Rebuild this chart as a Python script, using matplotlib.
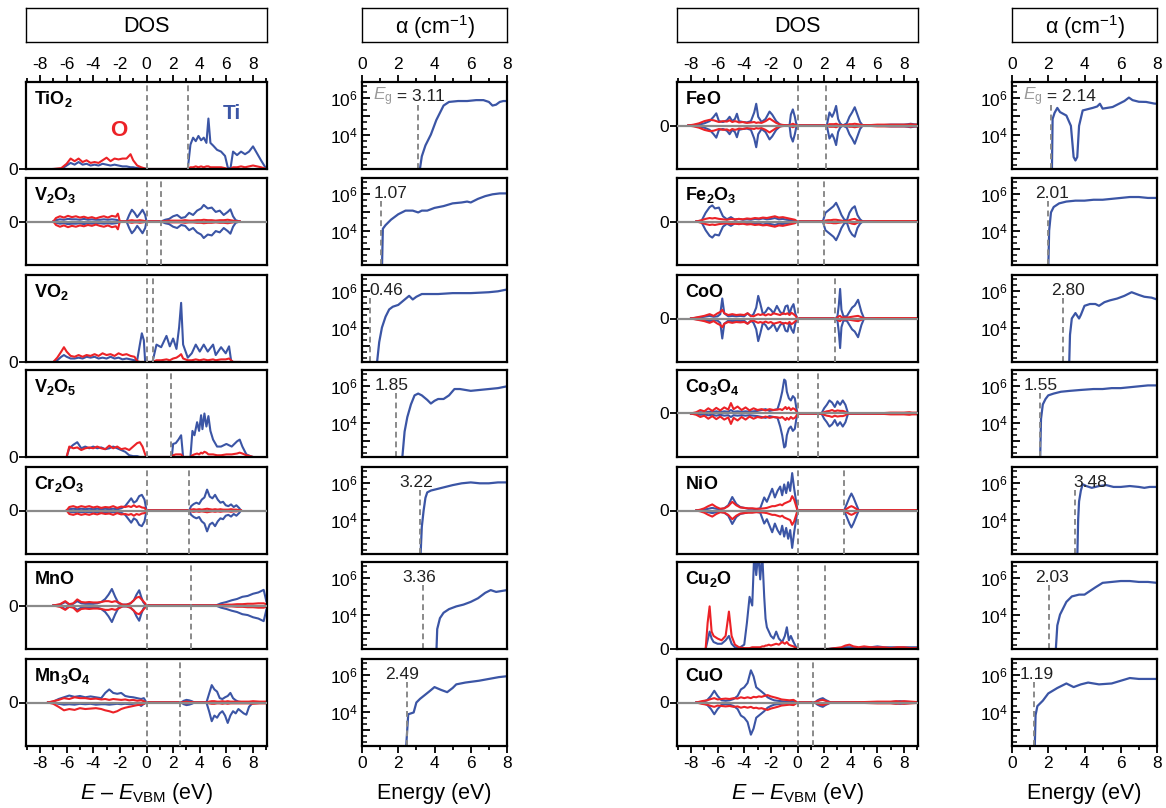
import numpy as np
import matplotlib.pyplot as plt
from matplotlib.ticker import FixedLocator, FixedFormatter, MultipleLocator

plt.rcParams['font.family'] = ['Liberation Sans', 'DejaVu Sans']
plt.rcParams['mathtext.fontset'] = 'custom'
plt.rcParams['mathtext.rm'] = 'Liberation Sans'
plt.rcParams['mathtext.it'] = 'Liberation Sans:italic'
plt.rcParams['mathtext.bf'] = 'Liberation Sans:bold'
plt.rcParams['axes.unicode_minus'] = False

# ---------------- data ----------------
# band gaps (eV)
gaps_left = [3.11, 1.07, 0.46, 1.85, 3.22, 3.36, 2.49]
gaps_right = [2.14, 2.01, 2.80, 1.55, 3.48, 2.03, 1.19]
names_left = ['TiO_2', 'V_2O_3', 'VO_2', 'V_2O_5', 'Cr_2O_3', 'MnO', 'Mn_3O_4']
names_right = ['FeO', 'Fe_2O_3', 'CoO', 'Co_3O_4', 'NiO', 'Cu_2O', 'CuO']
spin_left = [False, True, False, False, True, True, True]
spin_right = [True, True, True, True, True, False, True]

# DOS: energy grid, O (red) and metal (blue) partial DOS (spin-up; spin-down mirrored)
tio2_e = [-7.0, -6.4, -6.0, -5.7, -5.4, -5.1, -4.8, -4.5, -4.2, -3.9, -3.6, -3.3, -3.0, -2.7, -2.4, -2.1, -1.8, -1.5, -1.2, -1.0, -0.7, -0.4, 0.0] + \
         [3.1, 3.3, 3.5, 3.7, 3.9, 4.1, 4.3, 4.5, 4.65, 4.8, 5.0, 5.3, 5.6, 5.9, 6.1, 6.3, 6.5, 6.8, 7.1, 7.4, 7.7, 8.0, 8.3, 8.6, 9.0]
tio2_o = [0, 0.01, 0.06, 0.12, 0.09, 0.12, 0.08, 0.1, 0.07, 0.08, 0.07, 0.1, 0.13, 0.09, 0.12, 0.11, 0.12, 0.12, 0.17, 0.1, 0.04, 0.02, 0] + \
         [0, 0.02, 0.02, 0.03, 0.02, 0.03, 0.02, 0.03, 0.03, 0.02, 0.02, 0.02, 0.02, 0.01, 0.0, 0.0, 0.02, 0.02, 0.03, 0.02, 0.03, 0.04, 0.03, 0.02, 0]
tio2_m = [0, 0, 0.04, 0.07, 0.05, 0.08, 0.05, 0.06, 0.04, 0.05, 0.04, 0.06, 0.05, 0.04, 0.05, 0.04, 0.03, 0.03, 0.02, 0.02, 0.01, 0.01, 0] + \
         [0, 0.28, 0.36, 0.32, 0.38, 0.33, 0.36, 0.3, 0.58, 0.3, 0.27, 0.22, 0.2, 0.15, 0.02, 0.0, 0.2, 0.16, 0.2, 0.17, 0.2, 0.26, 0.18, 0.1, 0]

v2o3_e = [-7.0, -6.8, -6.5, -6.2, -5.9, -5.6, -5.3, -5.0, -4.7, -4.4, -4.1, -3.8, -3.5, -3.2, -2.9, -2.6, -2.3, -2.15, -2.0, -1.5, -1.3, -1.1, -0.9, -0.7, -0.5, -0.3, -0.1, 0.0] + \
         [1.1, 1.4, 1.7, 2.0, 2.3, 2.6, 2.9, 3.2, 3.5, 3.8, 4.1, 4.3, 4.6, 4.9, 5.2, 5.5, 5.8, 6.1, 6.3, 6.5, 6.7, 7.0]
v2o3_o = [0, 0.08, 0.12, 0.09, 0.13, 0.1, 0.12, 0.09, 0.11, 0.08, 0.1, 0.07, 0.1, 0.12, 0.09, 0.13, 0.11, 0.18, 0, 0, 0.02, 0.03, 0.02, 0.02, 0.03, 0.02, 0.01, 0] + \
         [0, 0.01, 0.02, 0.02, 0.02, 0.02, 0.03, 0.02, 0.02, 0.03, 0.03, 0.04, 0.03, 0.03, 0.02, 0.03, 0.03, 0.04, 0.03, 0.02, 0.01, 0]
v2o3_m = [0, 0.03, 0.05, 0.04, 0.06, 0.05, 0.05, 0.04, 0.06, 0.04, 0.05, 0.04, 0.04, 0.05, 0.04, 0.05, 0.04, 0.03, 0, 0, 0.15, 0.27, 0.2, 0.1, 0.18, 0.27, 0.15, 0] + \
         [0, 0.04, 0.06, 0.12, 0.15, 0.08, 0.1, 0.2, 0.15, 0.25, 0.3, 0.38, 0.3, 0.32, 0.22, 0.25, 0.15, 0.22, 0.28, 0.12, 0.03, 0]

vo2_e = [-7.0, -6.7, -6.4, -6.2, -6.0, -5.7, -5.4, -5.1, -4.8, -4.5, -4.2, -3.9, -3.6, -3.3, -3.0, -2.7, -2.4, -2.1, -1.8, -1.5, -1.2, -0.9, -0.7, -0.5, -0.35, -0.2, -0.1] + \
        [0.45, 0.75, 1.1, 1.5, 1.75, 2.0, 2.25, 2.45, 2.6, 2.75, 3.1, 3.4, 3.7, 4.0, 4.3, 4.6, 5.0, 5.2, 5.6, 5.95, 6.2, 6.35, 6.5, 7.0]
vo2_o = [0, 0.05, 0.12, 0.17, 0.12, 0.07, 0.06, 0.08, 0.06, 0.08, 0.07, 0.09, 0.07, 0.1, 0.08, 0.09, 0.07, 0.1, 0.08, 0.09, 0.07, 0.06, 0.01, 0.0, 0.0, 0.0, 0.0] + \
        [0, 0.02, 0.02, 0.03, 0.02, 0.04, 0.05, 0.07, 0.09, 0.04, 0.02, 0.02, 0.03, 0.02, 0.03, 0.02, 0.03, 0.02, 0.03, 0.03, 0.04, 0.02, 0, 0]
vo2_m = [0, 0.02, 0.06, 0.08, 0.06, 0.04, 0.04, 0.05, 0.04, 0.06, 0.05, 0.06, 0.04, 0.05, 0.04, 0.06, 0.04, 0.05, 0.03, 0.04, 0.03, 0.02, 0.02, 0.2, 0.33, 0.25, 0.0] + \
        [0, 0.2, 0.17, 0.3, 0.18, 0.27, 0.15, 0.4, 0.68, 0.2, 0.05, 0.1, 0.2, 0.12, 0.2, 0.12, 0.2, 0.08, 0.17, 0.1, 0.18, 0.02, 0, 0]

v2o5_e = [-6.0, -5.8, -5.5, -5.2, -4.9, -4.6, -4.3, -4.0, -3.7, -3.4, -3.1, -2.8, -2.5, -2.2, -1.9, -1.6, -1.3, -1.0, -0.7, -0.5, -0.3, -0.1, 0.0] + \
         [1.9, 2.0, 2.2, 2.4, 2.6, 2.75, 3.3, 3.45, 3.6, 3.8, 3.95, 4.1, 4.2, 4.35, 4.5, 4.65, 4.8, 5.0, 5.3, 5.6, 6.0, 6.4, 6.8, 7.0, 7.2, 7.5, 7.8, 8.0]
v2o5_o = [0, 0.12, 0.1, 0.11, 0.08, 0.1, 0.11, 0.1, 0.12, 0.1, 0.09, 0.13, 0.1, 0.12, 0.09, 0.1, 0.08, 0.12, 0.16, 0.17, 0.12, 0.03, 0] + \
         [0, 0.02, 0.03, 0.03, 0.03, 0.0, 0.0, 0.02, 0.03, 0.04, 0.03, 0.05, 0.04, 0.06, 0.05, 0.03, 0.03, 0.03, 0.02, 0.02, 0.03, 0.03, 0.04, 0.05, 0.04, 0.02, 0.01, 0]
v2o5_m = [0, 0.1, 0.14, 0.17, 0.1, 0.12, 0.1, 0.12, 0.1, 0.11, 0.09, 0.1, 0.12, 0.1, 0.08, 0.06, 0.02, 0.01, 0.01, 0, 0, 0, 0] + \
         [0, 0.15, 0.16, 0.2, 0.25, 0.0, 0.0, 0.3, 0.25, 0.4, 0.3, 0.48, 0.32, 0.5, 0.35, 0.47, 0.3, 0.2, 0.12, 0.12, 0.15, 0.12, 0.18, 0.2, 0.12, 0.03, 0.01, 0]

cr2o3_e = [-6.0, -5.8, -5.5, -5.2, -4.9, -4.6, -4.3, -4.0, -3.7, -3.4, -3.1, -2.8, -2.5, -2.2, -1.9, -1.6, -1.35, -1.15, -0.95, -0.75, -0.55, -0.35, -0.15, 0.0] + \
          [3.2, 3.35, 3.55, 3.75, 3.95, 4.15, 4.35, 4.55, 4.75, 4.95, 5.15, 5.35, 5.55, 5.75, 5.95, 6.15, 6.35, 6.55, 6.75, 6.95, 7.1]
cr2o3_o = [0, 0.08, 0.1, 0.07, 0.1, 0.08, 0.1, 0.07, 0.09, 0.06, 0.08, 0.07, 0.1, 0.06, 0.09, 0.08, 0.1, 0.08, 0.12, 0.08, 0.1, 0.07, 0.06, 0] + \
          [0, 0.02, 0.03, 0.02, 0.03, 0.02, 0.03, 0.04, 0.03, 0.02, 0.03, 0.02, 0.03, 0.02, 0.02, 0.02, 0.03, 0.02, 0.02, 0.01, 0]
cr2o3_m = [0, 0.03, 0.04, 0.03, 0.04, 0.03, 0.04, 0.03, 0.04, 0.03, 0.04, 0.03, 0.04, 0.03, 0.05, 0.1, 0.2, 0.28, 0.18, 0.22, 0.33, 0.36, 0.25, 0] + \
          [0, 0.1, 0.15, 0.18, 0.15, 0.25, 0.3, 0.48, 0.32, 0.28, 0.36, 0.25, 0.18, 0.2, 0.12, 0.1, 0.14, 0.08, 0.12, 0.06, 0]

mno_e = [-7.0, -6.5, -6.1, -5.8, -5.5, -5.2, -4.9, -4.6, -4.3, -4.0, -3.7, -3.4, -3.1, -2.85, -2.6, -2.35, -2.1, -1.8, -1.5, -1.2, -0.95, -0.75, -0.55, -0.4, -0.25, -0.1, 0.0] + \
        [5.2, 5.6, 6.0, 6.4, 6.8, 7.2, 7.6, 8.0, 8.4, 8.8, 9.0]
mno_o = [0, 0.03, 0.1, 0.03, 0.05, 0.14, 0.08, 0.07, 0.08, 0.07, 0.07, 0.08, 0.1, 0.1, 0.08, 0.1, 0.07, 0.02, 0.02, 0.05, 0.12, 0.18, 0.2, 0.15, 0.1, 0.05, 0] + \
        [0, 0.01, 0.02, 0.02, 0.03, 0.03, 0.04, 0.04, 0.05, 0.05, 0.03]
mno_m = [0, 0.02, 0.08, 0.02, 0.04, 0.1, 0.05, 0.04, 0.04, 0.04, 0.05, 0.08, 0.15, 0.25, 0.38, 0.2, 0.05, 0.02, 0.02, 0.05, 0.12, 0.25, 0.35, 0.2, 0.08, 0.02, 0] + \
        [0, 0.05, 0.08, 0.12, 0.15, 0.2, 0.22, 0.27, 0.3, 0.36, 0.1]

mn3o4_e = [-7.4, -7.0, -6.6, -6.2, -5.8, -5.4, -5.0, -4.6, -4.2, -3.8, -3.4, -3.1, -2.8, -2.5, -2.2, -1.9, -1.6, -1.3, -1.0, -0.7, -0.4, -0.2, 0.0] + \
          [2.6, 2.8, 3.0, 3.2, 3.4, 3.6, 4.5, 4.7, 4.9, 5.1, 5.3, 5.5, 5.7, 5.9, 6.1, 6.3, 6.5, 6.7, 6.9, 7.1, 7.3, 7.5, 7.7, 8.0, 8.5, 9.0]
mn3o4_o = [0, 0.03, 0.06, 0.1, 0.08, 0.12, 0.1, 0.1, 0.08, 0.09, 0.07, 0.08, 0.06, 0.08, 0.07, 0.06, 0.07, 0.05, 0.06, 0.04, 0.05, 0.03, 0] + \
          [0, 0.01, 0.02, 0.01, 0.01, 0, 0, 0.02, 0.03, 0.03, 0.02, 0.02, 0.03, 0.02, 0.03, 0.02, 0.02, 0.02, 0.02, 0.02, 0.02, 0.02, 0.02, 0.03, 0.02, 0.02]
mn3o4_od = [0, -0.03, -0.1, -0.18, -0.15, -0.17, -0.13, -0.15, -0.14, -0.13, -0.15, -0.18, -0.2, -0.23, -0.2, -0.15, -0.12, -0.1, -0.08, -0.06, -0.05, -0.03, 0] + \
           [0, -0.01, -0.02, -0.01, -0.01, 0, 0, -0.02, -0.03, -0.03, -0.02, -0.02, -0.03, -0.02, -0.03, -0.02, -0.02, -0.02, -0.02, -0.02, -0.02, -0.02, -0.02, -0.03, -0.02, -0.02]
mn3o4_m = [0, 0.02, 0.08, 0.12, 0.16, 0.13, 0.15, 0.12, 0.14, 0.12, 0.1, 0.22, 0.3, 0.22, 0.2, 0.22, 0.15, 0.13, 0.12, 0.1, 0.08, 0.1, 0] + \
          [0, 0.04, 0.06, 0.05, 0.03, 0, 0, 0.2, 0.4, 0.3, 0.25, 0.1, 0.08, 0.12, 0.15, 0.22, 0.1, 0.05, 0.02, 0.01, 0.01, 0.0, 0.0, 0, 0, 0]
mn3o4_md = [0, -0.01, -0.03, -0.05, -0.04, -0.05, -0.03, -0.04, -0.03, -0.05, -0.04, -0.04, -0.05, -0.04, -0.03, -0.04, -0.03, -0.04, -0.03, -0.02, -0.08, -0.03, 0] + \
           [0, -0.04, -0.06, -0.05, -0.03, 0, 0, -0.2, -0.43, -0.3, -0.35, -0.25, -0.2, -0.3, -0.47, -0.3, -0.2, -0.25, -0.15, -0.2, -0.25, -0.28, -0.1, 0, 0, 0]

feo_e = [-8.2, -7.8, -7.4, -7.0, -6.6, -6.3, -6.1, -5.9, -5.6, -5.3, -5.1, -4.9, -4.7, -4.55, -4.4, -4.1, -3.8, -3.5, -3.25, -3.1, -2.95, -2.7, -2.4, -2.1, -1.9, -1.6, -1.3, -1.0, -0.6, -0.5, -0.35, -0.2, -0.1, 0.0] + \
        [2.2, 2.4, 2.6, 2.75, 2.9, 3.05, 3.2, 3.4, 3.7, 3.9, 4.1, 4.3, 4.5, 4.7, 4.9, 5.5, 6.0, 6.5, 7.0, 7.5, 8.0, 8.3, 8.5, 8.7, 9.0]
feo_o = [0, 0.02, 0.05, 0.1, 0.13, 0.12, 0.1, 0.08, 0.1, 0.09, 0.12, 0.08, 0.1, 0.09, 0.07, 0.08, 0.06, 0.07, 0.08, 0.06, 0.07, 0.06, 0.1, 0.16, 0.12, 0.06, 0.02, 0.01, 0, 0.02, 0.04, 0.02, 0.01, 0] + \
        [0, 0.03, 0.03, 0.03, 0.04, 0.02, 0.01, 0, 0.01, 0.03, 0.03, 0.04, 0.03, 0.02, 0.01, 0.01, 0.02, 0.02, 0.02, 0.02, 0.02, 0.02, 0.03, 0.02, 0.02]
feo_m = [0, 0.01, 0.02, 0.05, 0.1, 0.2, 0.28, 0.1, 0.08, 0.12, 0.2, 0.1, 0.15, 0.27, 0.1, 0.08, 0.07, 0.1, 0.3, 0.5, 0.2, 0.08, 0.15, 0.32, 0.25, 0.1, 0.02, 0.0, 0.0, 0.25, 0.37, 0.2, 0.05, 0] + \
        [0, 0.3, 0.2, 0.3, 0.45, 0.15, 0.05, 0, 0.05, 0.2, 0.3, 0.42, 0.25, 0.08, 0, 0, 0.01, 0.01, 0.02, 0.02, 0.02, 0.03, 0.04, 0.03, 0.02]

fe2o3_e = [-7.6, -7.2, -6.9, -6.6, -6.4, -6.2, -5.9, -5.6, -5.3, -5.0, -4.7, -4.4, -4.1, -3.8, -3.5, -3.2, -2.9, -2.6, -2.3, -2.0, -1.7, -1.4, -1.1, -0.8, -0.5, -0.2, 0.0] + \
          [1.9, 2.1, 2.3, 2.5, 2.7, 2.9, 3.1, 3.3, 3.5, 3.7, 3.9, 4.1, 4.3, 4.5, 4.7, 4.9, 6.0, 9.0]
fe2o3_o = [0, 0.03, 0.06, 0.08, 0.07, 0.08, 0.06, 0.05, 0.04, 0.06, 0.05, 0.06, 0.05, 0.07, 0.06, 0.08, 0.07, 0.09, 0.08, 0.1, 0.12, 0.09, 0.1, 0.08, 0.06, 0.04, 0] + \
          [0, 0.02, 0.03, 0.03, 0.04, 0.04, 0.03, 0.02, 0.01, 0.01, 0.03, 0.05, 0.06, 0.03, 0.01, 0, 0.01, 0.01]
fe2o3_m = [0, 0.02, 0.2, 0.33, 0.37, 0.3, 0.32, 0.12, 0.05, 0.1, 0.04, 0.06, 0.04, 0.05, 0.04, 0.06, 0.05, 0.07, 0.05, 0.06, 0.08, 0.05, 0.06, 0.04, 0.03, 0.02, 0] + \
          [0, 0.2, 0.25, 0.3, 0.35, 0.43, 0.3, 0.15, 0.05, 0.02, 0.2, 0.3, 0.35, 0.15, 0.05, 0, 0, 0]

coo_e = [-8.0, -7.5, -7.0, -6.6, -6.3, -6.0, -5.8, -5.65, -5.5, -5.2, -4.9, -4.6, -4.3, -4.0, -3.75, -3.5, -3.3, -3.1, -2.95, -2.8, -2.6, -2.4, -2.2, -2.0, -1.8, -1.55, -1.3, -1.1, -0.9, -0.75, -0.6, -0.45, -0.3, -0.15, 0.0] + \
        [2.85, 3.0, 3.1, 3.2, 3.3, 3.45, 3.7, 3.9, 4.1, 4.3, 4.55, 4.8, 5.0, 6.0, 7.0, 8.0, 9.0]
coo_o = [0, 0.03, 0.06, 0.1, 0.06, 0.12, 0.15, 0.2, 0.12, 0.08, 0.1, 0.08, 0.09, 0.08, 0.12, 0.06, 0.05, 0.08, 0.1, 0.08, 0.1, 0.07, 0.1, 0.08, 0.12, 0.1, 0.08, 0.12, 0.1, 0.12, 0.08, 0.13, 0.1, 0.06, 0] + \
        [0, 0.02, 0.05, 0.06, 0.03, 0.02, 0.02, 0.03, 0.04, 0.05, 0.06, 0.03, 0, 0.01, 0.01, 0.01, 0.01]
coo_m = [0, 0.02, 0.04, 0.06, 0.04, 0.05, 0.1, 0.46, 0.12, 0.05, 0.06, 0.05, 0.06, 0.05, 0.12, 0.05, 0.1, 0.25, 0.52, 0.35, 0.1, 0.15, 0.25, 0.2, 0.12, 0.29, 0.15, 0.1, 0.28, 0.3, 0.1, 0.25, 0.33, 0.1, 0] + \
        [0, 0.05, 0.3, 0.68, 0.2, 0.05, 0.05, 0.15, 0.25, 0.3, 0.43, 0.15, 0, 0, 0, 0, 0]

co3o4_e = [-8.0, -7.6, -7.3, -7.0, -6.7, -6.4, -6.1, -5.8, -5.5, -5.2, -5.0, -4.8, -4.5, -4.2, -3.9, -3.6, -3.3, -3.0, -2.7, -2.4, -2.1, -1.8, -1.5, -1.3, -1.15, -1.0, -0.9, -0.8, -0.65, -0.5, -0.35, -0.2, -0.1, 0.0] + \
          [1.8, 2.0, 2.2, 2.4, 2.6, 2.8, 3.0, 3.2, 3.4, 3.6, 3.8, 6.5, 7.0, 7.5, 8.0, 8.4, 8.6, 9.0]
co3o4_o = [0, 0.03, 0.08, 0.05, 0.12, 0.06, 0.13, 0.07, 0.14, 0.09, 0.24, 0.1, 0.16, 0.08, 0.14, 0.07, 0.12, 0.08, 0.1, 0.07, 0.1, 0.08, 0.09, 0.1, 0.08, 0.12, 0.15, 0.1, 0.14, 0.08, 0.12, 0.1, 0.06, 0] + \
          [0, 0.03, 0.05, 0.06, 0.08, 0.05, 0.07, 0.06, 0.06, 0.04, 0, 0.01, 0.02, 0.02, 0.02, 0.03, 0.02, 0.02]
co3o4_m = [0, 0.01, 0.03, 0.02, 0.04, 0.03, 0.05, 0.03, 0.05, 0.04, 0.08, 0.04, 0.05, 0.04, 0.05, 0.04, 0.05, 0.06, 0.08, 0.1, 0.06, 0.08, 0.1, 0.3, 0.5, 0.78, 0.75, 0.5, 0.35, 0.3, 0.4, 0.35, 0.15, 0] + \
          [0, 0.12, 0.2, 0.3, 0.25, 0.15, 0.28, 0.2, 0.3, 0.2, 0, 0, 0, 0, 0, 0, 0, 0]

nio_e = [-7.6, -7.3, -7.0, -6.7, -6.4, -6.1, -5.8, -5.5, -5.2, -4.9, -4.6, -4.3, -4.0, -3.7, -3.4, -3.1, -2.8, -2.5, -2.3, -2.1, -1.9, -1.7, -1.5, -1.3, -1.15, -1.0, -0.85, -0.7, -0.55, -0.4, -0.25, -0.1, 0.0] + \
        [3.5, 3.7, 3.9, 4.05, 4.2, 4.4, 4.6, 5.0, 6.0, 7.0, 8.0, 9.0]
nio_o = [0, 0.02, 0.05, 0.1, 0.14, 0.08, 0.04, 0.05, 0.1, 0.2, 0.12, 0.07, 0.06, 0.05, 0.05, 0.04, 0.04, 0.05, 0.06, 0.08, 0.1, 0.1, 0.12, 0.14, 0.12, 0.16, 0.18, 0.2, 0.22, 0.33, 0.25, 0.1, 0] + \
        [0, 0.04, 0.08, 0.1, 0.08, 0.04, 0, 0, 0.01, 0.01, 0.01, 0.01]
nio_m = [0, 0.01, 0.02, 0.04, 0.06, 0.04, 0.03, 0.05, 0.12, 0.31, 0.15, 0.08, 0.06, 0.04, 0.04, 0.03, 0.05, 0.3, 0.2, 0.35, 0.5, 0.3, 0.45, 0.55, 0.35, 0.6, 0.4, 0.65, 0.45, 0.86, 0.5, 0.2, 0] + \
        [0, 0.15, 0.3, 0.39, 0.3, 0.15, 0, 0, 0, 0, 0, 0]

cu2o_e = [-6.9, -6.75, -6.6, -6.45, -6.3, -6.0, -5.7, -5.4, -5.15, -4.95, -4.7, -4.4, -4.0, -3.8, -3.6, -3.4, -3.25, -3.1, -2.95, -2.8, -2.65, -2.5, -2.4, -2.3, -2.15, -2.0, -1.8, -1.6, -1.4, -1.15, -0.95, -0.8, -0.65, -0.5, -0.3, -0.1, 0.0] + \
         [2.3, 2.8, 3.3, 3.6, 3.9, 4.2, 4.6, 5.0, 5.5, 6.0, 6.5, 7.0, 7.5, 8.0, 8.5, 9.0]
cu2o_o = [0, 0.3, 0.49, 0.2, 0.15, 0.12, 0.1, 0.15, 0.43, 0.15, 0.05, 0.02, 0.01, 0.01, 0.01, 0.02, 0.02, 0.02, 0.02, 0.02, 0.03, 0.03, 0.04, 0.04, 0.05, 0.04, 0.05, 0.06, 0.05, 0.08, 0.06, 0.08, 0.05, 0.04, 0.03, 0.01, 0] + \
         [0, 0.01, 0.02, 0.04, 0.05, 0.03, 0.02, 0.03, 0.02, 0.02, 0.02, 0.01, 0.02, 0.02, 0.01, 0.01]
cu2o_m = [0, 0.1, 0.2, 0.12, 0.08, 0.06, 0.06, 0.1, 0.15, 0.06, 0.02, 0.01, 0.05, 0.3, 0.6, 0.5, 1.1, 0.85, 1.1, 0.8, 1.1, 0.6, 0.35, 0.25, 0.2, 0.15, 0.12, 0.2, 0.12, 0.08, 0.15, 0.25, 0.1, 0.15, 0.08, 0.02, 0] + \
         [0, 0.01, 0.01, 0.02, 0.02, 0.02, 0.01, 0.02, 0.02, 0.03, 0.02, 0.02, 0.02, 0.02, 0.02, 0.02]

cuo_e = [-7.6, -7.2, -6.8, -6.5, -6.25, -6.0, -5.7, -5.4, -5.1, -4.8, -4.5, -4.25, -4.0, -3.75, -3.5, -3.3, -3.1, -2.9, -2.7, -2.5, -2.25, -2.0, -1.75, -1.5, -1.2, -0.9, -0.6, -0.3, 0.0] + \
        [1.3, 1.5, 1.7, 1.9, 2.1, 2.3, 2.5, 5.0, 6.0, 7.0, 7.4, 7.7, 8.0, 8.5, 9.0]
cuo_o = [0, 0.03, 0.05, 0.08, 0.1, 0.07, 0.08, 0.09, 0.08, 0.1, 0.09, 0.12, 0.1, 0.12, 0.1, 0.13, 0.12, 0.14, 0.13, 0.15, 0.17, 0.14, 0.12, 0.1, 0.07, 0.06, 0.05, 0.06, 0] + \
        [0, 0.03, 0.05, 0.06, 0.04, 0.02, 0, 0.01, 0.02, 0.02, 0.03, 0.02, 0.03, 0.02, 0.01]
cuo_m = [0, 0.01, 0.05, 0.15, 0.27, 0.15, 0.05, 0.04, 0.05, 0.08, 0.15, 0.3, 0.35, 0.45, 0.74, 0.6, 0.35, 0.3, 0.25, 0.2, 0.12, 0.08, 0.05, 0.04, 0.03, 0.02, 0.02, 0.02, 0] + \
        [0, 0.05, 0.08, 0.1, 0.06, 0.03, 0, 0, 0.01, 0.01, 0.02, 0.03, 0.02, 0.01, 0.01]

# absorption: photon energy (eV) and log10(alpha / cm^-1)
tio2_ae = [3.15, 3.3, 3.5, 3.8, 4.1, 4.5, 4.8, 5.3, 5.8, 6.3, 6.7, 7.0, 7.2, 7.4, 7.6, 7.8, 8.0]
tio2_al = [1.8, 2.8, 3.4, 4.0, 4.8, 5.6, 5.8, 5.85, 5.85, 5.9, 5.9, 5.8, 5.6, 5.65, 5.8, 5.85, 5.85]
v2o3_ae = [1.1, 1.15, 1.3, 1.6, 2.0, 2.4, 2.8, 3.1, 3.3, 3.6, 4.0, 4.5, 5.0, 5.5, 5.8, 6.0, 6.4, 6.8, 7.2, 7.6, 8.0]
v2o3_al = [1.8, 4.1, 4.3, 4.6, 4.9, 5.1, 5.1, 5.0, 5.1, 5.1, 5.25, 5.35, 5.5, 5.55, 5.6, 5.55, 5.75, 5.9, 6.0, 6.05, 6.05]
vo2_ae = [0.8, 0.95, 1.1, 1.3, 1.5, 1.7, 2.0, 2.3, 2.6, 2.8, 3.0, 3.3, 3.7, 4.2, 5.0, 6.0, 7.0, 7.5, 8.0]
vo2_al = [1.8, 3.2, 4.0, 4.6, 5.0, 5.15, 5.25, 5.5, 5.75, 5.55, 5.7, 5.85, 5.85, 5.85, 5.9, 5.9, 5.95, 6.0, 6.1]
v2o5_ae = [2.2, 2.35, 2.5, 2.7, 2.9, 3.1, 3.3, 3.6, 3.8, 4.0, 4.2, 4.5, 4.8, 5.1, 5.4, 6.0, 6.5, 7.0, 7.5, 8.0]
v2o5_al = [1.8, 3.5, 4.3, 5.0, 5.5, 5.6, 5.5, 5.25, 5.05, 5.2, 5.3, 5.3, 5.5, 5.85, 5.85, 5.75, 5.8, 5.85, 5.9, 6.0]
cr2o3_ae = [3.22, 3.3, 3.4, 3.5, 3.6, 3.8, 4.2, 4.6, 5.0, 5.5, 6.0, 6.5, 7.0, 7.5, 8.0]
cr2o3_al = [1.8, 3.6, 4.5, 5.2, 5.5, 5.6, 5.7, 5.8, 5.9, 6.0, 6.05, 6.0, 6.0, 6.05, 6.05]
mno_ae = [4.1, 4.15, 4.3, 4.5, 4.8, 5.2, 5.6, 6.0, 6.4, 6.8, 7.1, 7.4, 7.7, 8.0]
mno_al = [1.8, 3.2, 3.8, 4.1, 4.3, 4.45, 4.55, 4.7, 4.9, 5.2, 5.35, 5.25, 5.3, 5.35]
mn3o4_ae = [2.42, 2.55, 2.7, 2.85, 3.0, 3.2, 3.45, 3.7, 4.0, 4.35, 4.7, 5.0, 5.2, 5.7, 6.45, 7.0, 7.55, 8.0]
mn3o4_al = [1.8, 3.85, 3.9, 3.95, 4.5, 4.7, 4.9, 5.1, 5.35, 5.2, 5.07, 5.3, 5.5, 5.6, 5.7, 5.8, 5.9, 5.95]
feo_ae = [2.2, 2.24, 2.35, 2.5, 2.65, 3.0, 3.25, 3.4, 3.5, 3.6, 3.7, 3.9, 4.45, 4.7, 4.85, 5.0, 5.55, 6.2, 6.45, 6.65, 7.0, 7.4, 7.85, 8.0]
feo_al = [1.8, 4.86, 5.2, 5.47, 5.24, 5.05, 4.48, 2.76, 2.57, 2.76, 4.48, 5.33, 5.47, 5.55, 5.7, 5.43, 5.52, 5.85, 6.04, 5.9, 5.81, 5.8, 5.71, 5.7]
fe2o3_ae = [2.0, 2.05, 2.15, 2.3, 2.6, 3.0, 3.5, 4.0, 4.5, 5.0, 5.5, 6.0, 6.5, 7.0, 7.5, 8.0]
fe2o3_al = [1.8, 4.0, 5.0, 5.3, 5.5, 5.6, 5.65, 5.65, 5.7, 5.7, 5.75, 5.8, 5.85, 5.85, 5.8, 5.8]
coo_ae = [3.15, 3.2, 3.3, 3.5, 3.7, 3.8, 4.0, 4.3, 4.6, 4.8, 5.1, 5.4, 5.8, 6.2, 6.6, 7.0, 7.3, 7.7, 8.0]
coo_al = [1.8, 3.6, 4.5, 4.8, 4.5, 4.7, 5.2, 5.3, 5.3, 5.2, 5.4, 5.5, 5.6, 5.75, 5.95, 5.8, 5.7, 5.65, 5.55]
co3o4_ae = [1.55, 1.6, 1.7, 1.85, 2.0, 2.3, 2.7, 3.2, 3.8, 4.5, 5.0, 5.5, 6.0, 6.5, 7.0, 7.5, 8.0]
co3o4_al = [1.8, 4.2, 5.0, 5.3, 5.5, 5.6, 5.7, 5.75, 5.8, 5.85, 5.85, 5.9, 5.9, 5.95, 6.0, 6.05, 6.05]
nio_ae = [3.6, 3.65, 3.7, 3.8, 3.9, 4.1, 4.4, 4.8, 5.2, 5.6, 6.0, 6.5, 7.0, 7.3, 7.6, 8.0]
nio_al = [1.8, 4.0, 5.0, 5.6, 5.95, 5.85, 5.75, 5.85, 5.9, 5.8, 5.8, 5.85, 5.8, 5.75, 5.8, 5.8]
cu2o_ae = [2.4, 2.5, 2.65, 2.8, 3.0, 3.3, 3.7, 4.0, 4.3, 4.6, 5.0, 5.5, 6.0, 6.5, 7.0, 7.5, 8.0]
cu2o_al = [1.8, 3.4, 4.0, 4.3, 4.7, 5.0, 5.1, 5.1, 5.3, 5.5, 5.75, 5.8, 5.85, 5.85, 5.8, 5.8, 5.75]
cuo_ae = [1.25, 1.3, 1.4, 1.7, 2.0, 2.5, 3.0, 3.4, 3.8, 4.2, 4.8, 5.5, 6.0, 6.5, 7.0, 7.5, 8.0]
cuo_al = [1.8, 3.8, 4.3, 4.6, 5.0, 5.3, 5.55, 5.35, 5.5, 5.6, 5.5, 5.55, 5.7, 5.85, 5.8, 5.8, 5.8]

dos_left = [(tio2_e, tio2_o, tio2_m), (v2o3_e, v2o3_o, v2o3_m), (vo2_e, vo2_o, vo2_m), (v2o5_e, v2o5_o, v2o5_m),
            (cr2o3_e, cr2o3_o, cr2o3_m), (mno_e, mno_o, mno_m), (mn3o4_e, mn3o4_o, mn3o4_m)]
dos_right = [(feo_e, feo_o, feo_m), (fe2o3_e, fe2o3_o, fe2o3_m), (coo_e, coo_o, coo_m), (co3o4_e, co3o4_o, co3o4_m),
             (nio_e, nio_o, nio_m), (cu2o_e, cu2o_o, cu2o_m), (cuo_e, cuo_o, cuo_m)]
abs_left = [(tio2_ae, tio2_al), (v2o3_ae, v2o3_al), (vo2_ae, vo2_al), (v2o5_ae, v2o5_al),
            (cr2o3_ae, cr2o3_al), (mno_ae, mno_al), (mn3o4_ae, mn3o4_al)]
abs_right = [(feo_ae, feo_al), (fe2o3_ae, fe2o3_al), (coo_ae, coo_al), (co3o4_ae, co3o4_al),
             (nio_ae, nio_al), (cu2o_ae, cu2o_al), (cuo_ae, cuo_al)]

# label positions (eV) for the gap values in the alpha panels
lab_x_left = [0.6, 1.6, 1.35, 1.65, 3.0, 3.15, 2.2]
lab_x_right = [0.6, 2.2, 3.1, 1.6, 4.3, 2.2, 1.35]

# ---------------- layout ----------------
W, H = 1166, 808
RED = '#ec2227'
BLUE = '#3b55a5'
GRAY = '#8a8a8a'
row_top = [82, 178, 275, 370, 467, 562, 659]
row_h = 87
dos_x = [26, 677]
dos_w = 241
abs_x = [362, 1012]
abs_w = 145
LO, HI = 10**2.1, 10**6.9

fig = plt.figure(figsize=(W / 100, H / 100), dpi=100)


def add_ax(x, y, w, h):
    return fig.add_axes([x / W, 1 - (y + h) / H, w / W, h / H])


def style_spines(ax, lw=1.6):
    for s in ax.spines.values():
        s.set_linewidth(lw)


def dos_panel(ax, e, o, m, gap, spin, name, row, od=None, md=None):
    e = np.array(e)
    o = np.array(o)
    m = np.array(m)
    if spin:
        if od is None:
            od = -o
            md = -m
        ax.plot(e, m, color=BLUE, lw=1.5)
        ax.plot(e, md, color=BLUE, lw=1.5)
        ax.plot(e, o, color=RED, lw=1.5)
        ax.plot(e, od, color=RED, lw=1.5)
        ax.axhline(0, color=GRAY, lw=1.6, zorder=5)
        ax.set_ylim(-1, 1)
    else:
        ax.plot(e, m, color=BLUE, lw=1.5)
        ax.plot(e, o, color=RED, lw=1.5)
        ax.set_ylim(0, 1)
    for g in (0, gap):
        ax.axvline(g, color=GRAY, lw=1.4, ls=(0, (3, 2)), zorder=6)
    ax.set_xlim(-9.05, 9.05)
    ax.set_yticks([0])
    ax.set_yticklabels(['0'])
    ax.tick_params(axis='y', direction='out', length=5, width=1.3, labelsize=12.5, pad=1)
    ax.xaxis.set_major_locator(MultipleLocator(2))
    ax.xaxis.set_minor_locator(MultipleLocator(1))
    ax.tick_params(axis='x', which='both', bottom=False, top=False,
                   labelbottom=False, labeltop=False, direction='out', width=1.3, labelsize=12.5)
    ax.tick_params(axis='x', which='major', length=5, pad=2)
    ax.tick_params(axis='x', which='minor', length=3)
    if row == 0:
        ax.tick_params(axis='x', which='both', top=True, labeltop=True)
    if row == 6:
        ax.tick_params(axis='x', which='both', bottom=True, labelbottom=True)
    ax.text(0.035, 0.8, r'$\mathbf{' + name + '}$', transform=ax.transAxes,
            ha='left', va='center', fontsize=13)
    style_spines(ax)


def abs_panel(ax, e, lg, gap, row, lx):
    ax.semilogy(e, 10 ** np.array(lg), color=BLUE, lw=1.6)
    ax.set_ylim(LO, HI)
    ax.set_xlim(0, 8)
    ax.plot([gap, gap], [LO, 10**5.65], color=GRAY, lw=1.4, ls=(0, (3, 2)))
    ax.yaxis.set_major_locator(FixedLocator([1e3, 1e4, 1e5, 1e6]))
    ax.yaxis.set_major_formatter(FixedFormatter(['', r'$10^4$', '', r'$10^6$']))
    ax.yaxis.set_minor_locator(FixedLocator([10**k for k in
                                             (2.33, 2.67, 3.33, 3.67, 4.33, 4.67, 5.33, 5.67, 6.33, 6.67)]))
    ax.tick_params(axis='y', which='major', direction='in', length=6, width=1.3, labelsize=12.5, pad=3)
    ax.tick_params(axis='y', which='minor', direction='in', length=3.5, width=1.1)
    ax.xaxis.set_major_locator(MultipleLocator(2))
    ax.xaxis.set_minor_locator(MultipleLocator(1))
    ax.tick_params(axis='x', which='both', bottom=False, top=False,
                   labelbottom=False, labeltop=False, direction='out', width=1.3, labelsize=12.5)
    ax.tick_params(axis='x', which='major', length=5, pad=2)
    ax.tick_params(axis='x', which='minor', length=3)
    if row == 0:
        ax.tick_params(axis='x', which='both', top=True, labeltop=True)
        t = ax.text(lx, 10**6.1, r'$E_\mathrm{g}$', color='#999999', ha='left', va='center', fontsize=12.5)
        ax.annotate(' = %.2f' % gap, xy=(1, 0.5), xycoords=t, ha='left', va='center',
                    fontsize=12.5, color='#222222')
    else:
        ax.text(lx, 10**6.05, '%.2f' % gap, ha='center', va='center', fontsize=12.5, color='#222222')
    if row == 6:
        ax.tick_params(axis='x', which='both', bottom=True, labelbottom=True)
    style_spines(ax)


for c in range(2):
    dos = dos_left if c == 0 else dos_right
    absd = abs_left if c == 0 else abs_right
    gaps = gaps_left if c == 0 else gaps_right
    names = names_left if c == 0 else names_right
    spins = spin_left if c == 0 else spin_right
    labx = lab_x_left if c == 0 else lab_x_right
    for r in range(7):
        ax = add_ax(dos_x[c], row_top[r], dos_w, row_h)
        e, o, m = dos[r]
        if c == 0 and r == 6:
            dos_panel(ax, e, o, m, gaps[r], True, names[r], r, od=mn3o4_od, md=mn3o4_md)
        else:
            dos_panel(ax, e, o, m, gaps[r], spins[r], names[r], r)
        if c == 0 and r == 0:
            ax.text(-2.1, 0.44, 'O', color=RED, fontsize=16, fontweight='bold', ha='center', va='center')
            ax.text(6.4, 0.64, 'Ti', color=BLUE, fontsize=15, fontweight='bold', ha='center', va='center')

        bx = add_ax(abs_x[c], row_top[r], abs_w, row_h)
        ae, al = absd[r]
        abs_panel(bx, ae, al, gaps[r], r, labx[r])

    # header boxes
    for x0, w0, txt in ((dos_x[c], dos_w, 'DOS'), (abs_x[c], abs_w, r'α (cm$^{-1}$)')):
        hx = add_ax(x0, 8, w0, 34)
        hx.set_xticks([])
        hx.set_yticks([])
        style_spines(hx, 1.0)
        hx.text(0.5, 0.45, txt, ha='center', va='center', fontsize=15.5, transform=hx.transAxes)

    fig.text((dos_x[c] + dos_w / 2) / W, 1 - 793 / H, r'$E$ – $E_\mathrm{VBM}$ (eV)',
             ha='center', va='center', fontsize=15.5)
    fig.text((abs_x[c] + abs_w / 2) / W, 1 - 793 / H, 'Energy (eV)',
             ha='center', va='center', fontsize=15.5)

fig.savefig('out.png', dpi=100)
